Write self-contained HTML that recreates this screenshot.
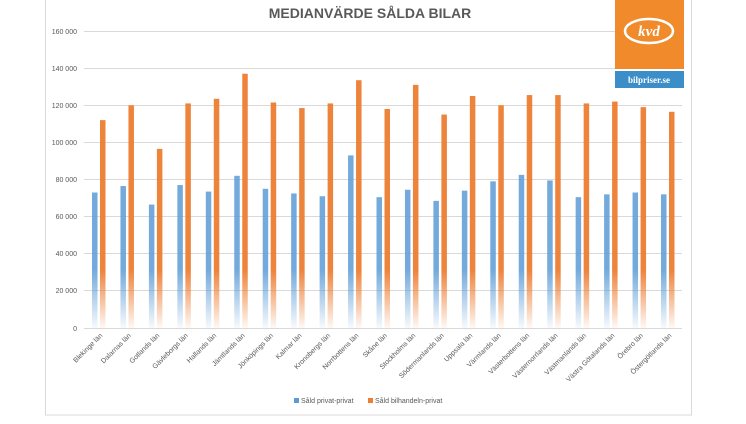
<!DOCTYPE html>
<html><head><meta charset="utf-8"><style>
body{margin:0;background:#fff;width:746px;height:419px;overflow:hidden}
</style></head><body>
<svg width="746" height="419" xmlns="http://www.w3.org/2000/svg" font-family="Liberation Sans, sans-serif">
<defs>
<linearGradient id="gb" gradientUnits="userSpaceOnUse" x1="0" y1="270" x2="0" y2="328"><stop offset="0" stop-color="#5b9bd5" stop-opacity="0.85"/><stop offset="1" stop-color="#5b9bd5" stop-opacity="0.05"/></linearGradient>
<linearGradient id="go" gradientUnits="userSpaceOnUse" x1="0" y1="270" x2="0" y2="328"><stop offset="0" stop-color="#ed7d31" stop-opacity="0.95"/><stop offset="1" stop-color="#ed7d31" stop-opacity="0.05"/></linearGradient>
</defs>
<rect x="45.5" y="-2" width="646" height="417" fill="#fff" stroke="#d9d9d9"/>
<text x="370" y="18" text-anchor="middle" font-size="14" font-weight="bold" fill="#595959">MEDIANVÄRDE SÅLDA BILAR</text>
<g stroke="#d9d9d9" stroke-width="1">
<line x1="84" x2="682" y1="31.5" y2="31.5"/><line x1="84" x2="682" y1="68.5" y2="68.5"/><line x1="84" x2="682" y1="105.5" y2="105.5"/><line x1="84" x2="682" y1="142.5" y2="142.5"/><line x1="84" x2="682" y1="179.5" y2="179.5"/><line x1="84" x2="682" y1="216.5" y2="216.5"/><line x1="84" x2="682" y1="253.5" y2="253.5"/><line x1="84" x2="682" y1="290.5" y2="290.5"/><line x1="84" x2="682" y1="328.5" y2="328.5"/>
</g>
<g font-size="7" fill="#595959" text-anchor="end">
<text x="77" y="34">160 000</text><text x="77" y="71">140 000</text><text x="77" y="108">120 000</text><text x="77" y="145">100 000</text><text x="77" y="182">80 000</text><text x="77" y="219">60 000</text><text x="77" y="256">40 000</text><text x="77" y="293">20 000</text><text x="77" y="331">0</text>
</g>
<g id="bars"></g>
<g id="labels" font-size="7" fill="#595959" text-anchor="end"></g>
<rect x="615" y="0" width="69" height="69" fill="#f08a2b"/>
<ellipse cx="649" cy="31" rx="24" ry="12" fill="none" stroke="#fff" stroke-width="2.5"/>
<text x="649" y="36" text-anchor="middle" font-size="15" font-weight="bold" font-style="italic" fill="#fff" font-family="Liberation Serif, serif">kvd</text>
<rect x="615" y="71" width="69" height="17" fill="#3b8ec7"/>
<text x="649" y="83" text-anchor="middle" font-size="9" font-weight="bold" fill="#fff" font-family="Liberation Serif, serif">bilpriser.se</text>
<rect x="294" y="398" width="5" height="5" fill="#5b9bd5"/><text x="301" y="403" font-size="7" fill="#595959">Såld privat-privat</text>
<rect x="368" y="398" width="5" height="5" fill="#ed7d31"/><text x="375" y="403" font-size="7" fill="#595959">Såld bilhandeln-privat</text>
</svg>
<script>
var names=["Blekinge län","Dalarnas län","Gotlands län","Gävleborgs län","Hallands län","Jämtlands län","Jönköpings län","Kalmar län","Kronobergs län","Norrbottens län","Skåne län","Stockholms län","Södermanlands län","Uppsala län","Värmlands län","Västerbottens län","Västernorrlands län","Västmanlands län","Västra Götalands län","Örebro län","Östergötlands län"];
var b=[73,76.5,66.5,77,73.5,82,75,72.5,71,93,70.5,74.5,68.5,74,79,82.5,79.5,70.5,72,73,72];
var o=[112,120,96.5,121,123.5,137,121.5,118.5,121,133.5,118,131,115,125,120,125.5,125.5,121,122,119,116.5];
var ns="http://www.w3.org/2000/svg",g=document.getElementById("bars"),L=document.getElementById("labels");
function r(x,v,f){var e=document.createElementNS(ns,"rect");var h=v*1.856;e.setAttribute("x",x);e.setAttribute("y",328-h);e.setAttribute("width",5.5);e.setAttribute("height",h);e.setAttribute("fill",f);g.appendChild(e);}
for(var i=0;i<21;i++){var x=92+i*28.45;r(x,b[i],"url(#gb)");r(x+8,o[i],"url(#go)");
var t=document.createElementNS(ns,"text");var ax=x+11,ay=336;t.setAttribute("x",ax);t.setAttribute("y",ay);t.setAttribute("transform","rotate(-45 "+ax+" "+ay+")");t.textContent=names[i];L.appendChild(t);}
</script>
</body></html>
